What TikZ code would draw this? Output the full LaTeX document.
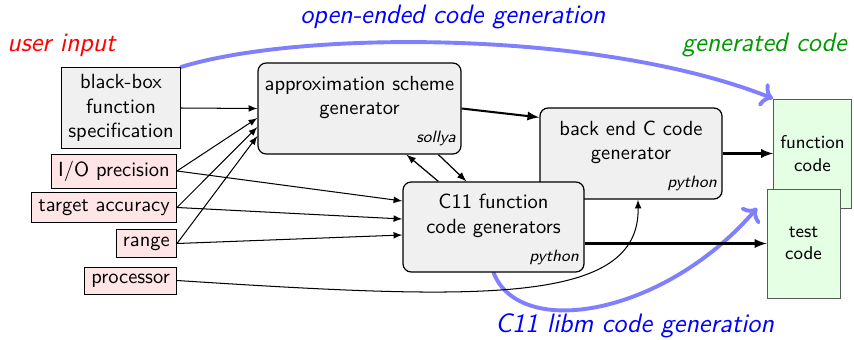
\documentclass[tikz,border=0pt]{standalone}
\usepackage{fontspec}
\usetikzlibrary{calc,backgrounds,arrows.meta}

% one drawing unit
\newcommand\pxu{0.4878pt}
% tool name set small and italic at the right of a generator box
\newcommand\toolname[1]{\hspace*{\fill}{\footnotesize\itshape #1}}

\begin{document}
\begin{tikzpicture}[x=\pxu, y=-\pxu, font=\sffamily,
  inbox/.style={draw, fill=red!10, anchor=east},
  specbox/.style={draw, fill=black!6, align=center},
  genbox/.style={draw, semithick, fill=black!6, rounded corners=4pt,
    align=center, inner xsep=2.5pt},
  outbox/.style={draw=black!65, fill=green!10, align=center,
    font=\sffamily\small, minimum height=53.2pt},
  lbl/.style={font=\sffamily\fontsize{13}{15}\selectfont\itshape, inner sep=0pt},
  arr/.style={-latex, line width=0.5pt},
  bigarr/.style={-latex, line width=1pt},
  flow/.style={->, blue!50, line width=1.9pt, line cap=round}]

\useasboundingbox (0,0) rectangle (854,340);

% inputs
\node[specbox] (bb) at (121,108) {black-box\\function\\specification};
\node[inbox] (io) at (177,171) {I/O precision};
\node[inbox] (target) at (177,207.5) {target accuracy};
\node[inbox] (range) at (177,243.5) {range};
\node[inbox] (proc) at (177,280.5) {processor};

% generators
\node[genbox, text width=94pt, minimum height=44.4pt] (approx) at (359.5,108.5)
  {\rule{0pt}{9.3pt}approximation scheme\\generator\\[1.7pt]\toolname{sollya}};
\node[genbox, text width=83.8pt, minimum height=44.4pt] (be) at (631,153.5)
  {\rule{0pt}{9.3pt}back end C code\\generator\\[1.7pt]\toolname{python}};
\node[genbox, text width=83.3pt, minimum height=43.9pt] (c11) at (493.5,227)
  {\rule{0pt}{9.3pt}C11 function\\code generators\\[1.7pt]\toolname{python}};

% outputs
\node[outbox, minimum width=37.6pt] (fc) at (812.5,153.5) {function\\code};
\node[outbox, minimum width=35.6pt] (tc) at (803.5,243.5) {test\\code};

% captions
\node[lbl, red, anchor=base west] (userin) at (7,51) {user input};
\node[lbl, blue, anchor=base west] (openlbl) at (300,24) {open-ended code generation};
\node[lbl, green!60!black, anchor=base east] (genlbl) at (847,51) {generated code};
\node[lbl, blue, anchor=base west] (libmlbl) at (495,332) {C11 libm code generation};

\coordinate (libmtip) at (757,208);

% the two code generation flows, behind everything
\begin{scope}[on background layer]
  \fill[white] (0,0) rectangle (854,340);
  \draw[flow] (bb.north east) .. controls +(120,-37) and +(-174,-69) .. (fc.north west);
  \draw[flow] (c11.south) .. controls +(26.5,68) and +(-92,107) .. (libmtip);
\end{scope}

% inputs into the generators
\draw[arr] (bb.east) -- (approx.west);
\draw[arr] (io.east) -- ($(approx.west)+(0,9.5)$);
\draw[arr] (target.east) -- ($(approx.west)+(0,18.5)$);
\draw[arr] (range.east) -- ($(approx.west)+(0,27.5)$);
\draw[arr] (io.east) -- ($(c11.west)+(0,-26)$);
\draw[arr] (target.east) -- ($(c11.west)+(0,-8)$);
\draw[arr] (range.east) -- ($(c11.west)+(0,8)$);
\draw[arr] (proc.east) .. controls +(303,19.5) and +(2,106) .. ($(be.south)+(7,0)$);

% between the generators
\draw[arr, semithick] ($(c11.north west)+(36,0)$) -- ($(approx.south west)+(149,0)$);
\draw[arr, semithick] ($(approx.south west)+(181,0)$) -- ($(c11.north west)+(64,0)$);
\draw[bigarr] (approx.east) -- ($(be.north west)+(0,10)$);

% generated files
\draw[bigarr] (be.east) -- (fc.west);
\draw[bigarr] (tc.west -| c11.east) -- (tc.west);
\end{tikzpicture}
\end{document}
